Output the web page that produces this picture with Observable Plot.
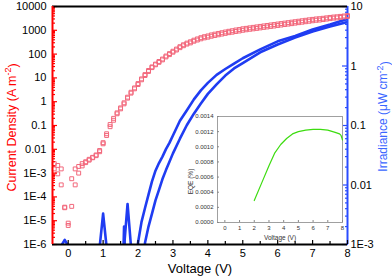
<!DOCTYPE html>
<html><head><meta charset="utf-8">
<script src="https://cdn.jsdelivr.net/npm/d3@7"></script>
<script src="https://cdn.jsdelivr.net/npm/@observablehq/plot@0.6"></script>
<style>
body{margin:0;background:#fff;}
#wrap{position:relative;width:392px;height:276px;background:#fff;}
#wrap svg{position:absolute;}
</style></head><body><div id="wrap"></div>
<script>
// ---------- data ----------
const xDomain = [-0.45, 8];
const jDomain = [1e-6, 1e4];
const irrDomain = [1e-3, 10];
const xTicks = [0,1,2,3,4,5,6,7,8];
const xTickLabels = ["0","1","2","3","4","5","6","7","8"];
const xMinorTicks = [0.5,1.5,2.5,3.5,4.5,5.5,6.5,7.5];
const jTicks = [1e4,1e3,100,10,1,0.1,0.01,1e-3,1e-4,1e-5,1e-6];
const jTickLabels = ["10000","1000","100","10","1","0.1","0.01","1E-3","1E-4","1E-5","1E-6"];
const irrTicks = [10,1,0.1,0.01,1e-3];
const irrTickLabels = ["10","1","0.1","0.01","1E-3"];
const eqeTicks = [0,0.0002,0.0004,0.0006,0.0008,0.0010,0.0012,0.0014];
const eqeTickLabels = ["0.0000","0.0002","0.0004","0.0006","0.0008","0.0010","0.0012","0.0014"];

// Current density (A m^-2), two sweeps
const jVolt = [-0.4,-0.3,-0.2,-0.1,0,0.1,0.2,0.3,0.4,0.5,0.6,0.7,0.8,0.9,1,1.1,1.2,1.3,1.4,1.5,1.6,1.7,1.8,1.9,2,2.1,2.2,2.3,2.4,2.5,2.6,2.7,2.8,2.9,3,3.1,3.2,3.3,3.4,3.5,3.6,3.7,3.8,3.9,4,4.1,4.2,4.3,4.4,4.5,4.6,4.7,4.8,4.9,5,5.1,5.2,5.3,5.4,5.5,5.6,5.7,5.8,5.9,6,6.1,6.2,6.3,6.4,6.5,6.6,6.7,6.8,6.9,7,7.1,7.2,7.3,7.4,7.5,7.6,7.7,7.8,7.9,8];
const jSweepA = [2.5e-3,2.1e-3,1.5e-3,3.7e-5,
  7.9e-6,4.0e-5,1.5e-3,1.9e-3,2.5e-3,3.0e-3,3.8e-3,4.6e-3,5.8e-3,7.9e-3,
  0.017,0.038,0.089,0.166,0.31,0.50,0.81,1.41,2.29,3.47,
  5.25,8.3,12.6,18.6,27,35.5,45,57,76,95,
  120,148,186,224,263,295,347,389,437,479,
  513,562,603,646,692,741,794,832,891,933,
  1000,1050,1100,1150,1200,1260,1320,1380,1450,1510,
  1590,1660,1740,1820,1900,2000,2090,2190,2290,2400,
  2510,2630,2690,2820,2950,3090,3240,3310,3470,3630,
  3800];
const jSweepB = [1.5e-3,9.3e-4,3.2e-4,3.5e-5,
  6.3e-6,5.8e-4,3.2e-4,1.0e-3,2.0e-3,2.75e-3,3.5e-3,4.4e-3,5.4e-3,8.9e-3,
  0.019,0.045,0.11,0.2,0.34,0.55,0.9,1.55,2.5,3.8,
  5.8,9.1,13.8,20.5,29,38,49,62,83,105,
  132,163,205,247,290,330,385,435,490,540,
  580,640,690,740,790,850,910,960,1030,1080,
  1160,1210,1270,1330,1390,1460,1530,1600,1680,1750,
  1840,1920,2010,2100,2200,2300,2410,2520,2640,2760,
  2880,3000,3080,3200,3340,3480,3620,3700,3850,4000,
  4150];

// Irradiance (uW cm^-2), two sweeps
const irrVolt = [-0.4,-0.3,-0.2,-0.1,0,0.1,0.2,0.3,0.4,0.5,0.6,0.7,0.8,0.9,1,1.1,1.2,1.3,1.4,1.5,1.6,1.7,1.8,1.9,2,2.1,2.2,2.3,2.4,2.5,2.6,2.7,2.8,2.9,3,3.2,3.4,3.6,3.8,4,4.25,4.5,4.75,5,5.5,6,6.5,7,7.5,8];
const irrSweepA = [1e-5,1e-5,9.5e-4,1.2e-3,
  9.5e-4,1e-5,1e-5,1e-5,1e-5,1e-5,1e-5,1e-5,1e-5,9e-4,
  3.3e-3,9e-4,1e-5,1e-5,1e-5,1e-5,9e-4,4.8e-3,9e-4,1e-5,
  1.07e-3,2.4e-3,4.1e-3,6.9e-3,0.0115,0.0174,0.0234,0.030,0.040,0.051,
  0.068,0.12,0.18,0.275,0.39,0.52,
  0.71,0.89,1.1,1.35,
  1.9,2.6,3.2,4.1,5.0,6.2];
const irrSweepB = [1e-5,1e-5,1e-5,1e-5,
  1e-5,1e-5,1e-5,1e-5,1e-5,1e-5,1e-5,1e-5,1e-5,1e-5,
  1e-5,1e-5,1e-5,1e-5,1e-5,1e-5,2.0e-3,1e-5,1e-5,1e-5,
  1e-5,1e-5,1.07e-3,2.0e-3,3.3e-3,5.5e-3,8.3e-3,0.0126,0.0178,0.0245,
  0.034,0.060,0.102,0.158,0.234,0.34,
  0.49,0.69,0.91,1.12,
  1.7,2.3,3.0,3.8,4.6,5.5];

// Inset EQE (%)
const eqeVolt = [2.0,2.5,3.0,3.4,3.8,4.2,4.6,5.0,5.5,6.0,6.5,7.0,7.5,7.8,7.9,8.0];
const eqeVal = [0.00029,0.00052,0.00075,0.00092,0.00103,0.00111,0.00117,0.00120,0.00122,0.00123,0.00123,0.00122,0.00119,0.00117,0.00115,0.00109];

const jLabel = "Current Density (A m-2)";
const irrLabel = "Irradiance (\u03bcW cm-2)";
const xLabel = "Voltage (V)";

// ---------- styles ----------
const font = "'Liberation Sans', Arial, Helvetica, sans-serif";
const RED = "#ff0000", RED_DOT = "#f2687c", BLUE = "#1f3cf2", BLUE_AXIS = "#2a4cff", BLUE_LABEL = "#3a66ff", GREEN = "#3ddc10";
const W = 392, H = 276;
const M = {marginLeft: 52, marginRight: 45, marginTop: 6, marginBottom: 32};
const logFmt = (ticks, labels) => d => {
  const i = ticks.findIndex(t => Math.abs(Math.log10(t) - Math.log10(d)) < 1e-6);
  return i >= 0 ? labels[i] : "";
};
const linFmt = (ticks, labels) => d => {
  const i = ticks.findIndex(t => Math.abs(t - d) < 1e-9);
  return i >= 0 ? labels[i] : "";
};
const minorLog = (lo, hi) => {
  const out = [];
  for (let e = lo; e < hi; e++) for (const m of [2,3,4,5,6,7,8,9]) out.push(m * Math.pow(10, e));
  return out;
};

const jRows = jVolt.map((v, i) => ({v, a: jSweepA[i], b: jSweepB[i]}));
const irrRows = irrVolt.map((v, i) => ({v, a: irrSweepA[i], b: irrSweepB[i]}));
const eqeRows = eqeVolt.map((v, i) => ({v, e: eqeVal[i]}));

const wrap = document.getElementById("wrap");

// Blue layer (right axis)
const p1 = Plot.plot({
  width: W, height: H, ...M,
  style: {fontFamily: font, fontSize: "11px", background: "transparent", color: "black"},
  x: {domain: xDomain, axis: null},
  y: {type: "log", domain: irrDomain},
  marks: [
    Plot.line(irrRows, {x: "v", y: "a", stroke: BLUE, strokeWidth: 2.6, clip: true}),
    Plot.line(irrRows, {x: "v", y: "b", stroke: BLUE, strokeWidth: 2.6, clip: true}),
    Plot.axisY({anchor: "right", ticks: minorLog(-3, 1), tickSize: -3, tickFormat: () => "", stroke: BLUE_AXIS, strokeWidth: 1.2, label: null}),
    Plot.axisY({anchor: "right", ticks: irrTicks, tickSize: -6, tickPadding: 9, tickFormat: logFmt(irrTicks, irrTickLabels), stroke: BLUE_AXIS, strokeWidth: 1.2, fill: "black", fontSize: 11, label: null}),
    Plot.ruleX([xDomain[1]], {stroke: BLUE_AXIS, strokeWidth: 2}),
    Plot.text([irrLabel], {frameAnchor: "right", textAnchor: "middle", lineAnchor: "middle", rotate: -90, dx: 36, dy: -9, fill: BLUE_LABEL, fontSize: 12})
  ]
});
p1.style.left = "0px"; p1.style.top = "0px";
wrap.appendChild(p1);

// Red / black layer (left axis, bottom axis)
const p2 = Plot.plot({
  width: W, height: H, ...M,
  style: {fontFamily: font, fontSize: "11px", background: "transparent", color: "black"},
  x: {domain: xDomain},
  y: {type: "log", domain: jDomain},
  marks: [
    Plot.dot(jRows, {x: "v", y: "a", symbol: "square", r: 2.2, stroke: RED_DOT, strokeWidth: 1, fill: "none"}),
    Plot.dot(jRows, {x: "v", y: "b", symbol: "square", r: 2.2, stroke: RED_DOT, strokeWidth: 1, fill: "none"}),
    Plot.axisY({anchor: "left", ticks: minorLog(-6, 4), tickSize: -3, tickFormat: () => "", stroke: RED, strokeWidth: 1.2, label: null}),
    Plot.axisY({anchor: "left", ticks: jTicks, tickSize: -5, tickPadding: 11, tickFormat: logFmt(jTicks, jTickLabels), stroke: RED, strokeWidth: 1.2, fill: "black", fontSize: 11, label: null}),
    Plot.axisX({anchor: "bottom", ticks: xMinorTicks, tickSize: -3, tickFormat: () => "", stroke: "black", strokeWidth: 1.2, label: null}),
    Plot.axisX({anchor: "bottom", ticks: xTicks, tickSize: -4, tickPadding: 9, tickFormat: linFmt(xTicks, xTickLabels), stroke: "black", strokeWidth: 1.2, fill: "black", fontSize: 11, label: null}),
    Plot.ruleY([jDomain[0]], {stroke: "black", strokeWidth: 2}),
    Plot.ruleY([jDomain[1]], {stroke: "black", strokeWidth: 2}),
    Plot.ruleX([xDomain[0]], {stroke: RED, strokeWidth: 2}),
    Plot.text([jLabel], {frameAnchor: "left", textAnchor: "middle", lineAnchor: "middle", rotate: -90, dx: -41, dy: 2, fill: RED, fontSize: 12.5}),
    Plot.text([xLabel], {frameAnchor: "bottom", textAnchor: "middle", lineAnchor: "middle", dy: 24, fill: "black", fontSize: 13})
  ]
});
p2.style.left = "0px"; p2.style.top = "0px";
wrap.appendChild(p2);

// Inset
const p3 = Plot.plot({
  width: 162, height: 135, marginLeft: 32, marginRight: 5, marginTop: 6, marginBottom: 23,
  style: {fontFamily: font, fontSize: "6px", background: "transparent", color: "#333"},
  x: {domain: [-0.5, 8]},
  y: {domain: [0, 0.0014]},
  marks: [
    Plot.frame({stroke: "#a0a0a0", strokeWidth: 1}),
    Plot.line(eqeRows, {x: "v", y: "e", stroke: GREEN, strokeWidth: 1.2}),
    Plot.axisY({anchor: "left", ticks: eqeTicks, tickSize: -2, tickPadding: 6, tickFormat: linFmt(eqeTicks, eqeTickLabels), stroke: "#888", fill: "#333", fontSize: 6, label: null}),
    Plot.axisX({anchor: "bottom", ticks: xTicks, tickSize: -2, tickPadding: 5, tickFormat: linFmt(xTicks, xTickLabels), stroke: "#888", fill: "#333", fontSize: 6, label: null}),
    Plot.text(["EQE (%)"], {frameAnchor: "left", textAnchor: "middle", lineAnchor: "middle", rotate: -90, dx: -27, dy: 12, fill: "#333", fontSize: 6.5}),
    Plot.text([xLabel], {frameAnchor: "bottom", textAnchor: "middle", lineAnchor: "middle", dy: 15, fill: "#333", fontSize: 6.5})
  ]
});
p3.style.left = "185px"; p3.style.top = "110px";
wrap.appendChild(p3);

// superscripts
function supify(svg, full, base, sup, tail, size) {
  d3.select(svg).selectAll("text").filter(function() { return this.textContent === full; }).each(function() {
    const t = d3.select(this);
    t.text(null);
    t.append("tspan").text(base);
    t.append("tspan").attr("dy", "-0.45em").attr("font-size", "9px").text(sup);
    t.append("tspan").attr("dy", "0.45em").attr("font-size", size).text(tail);
  });
}
supify(p2, jLabel, "Current Density (A m", "-2", ")", "12.5px");
supify(p1, irrLabel, "Irradiance (\u03bcW cm", "-2", ")", "12px");
</script></body></html>
